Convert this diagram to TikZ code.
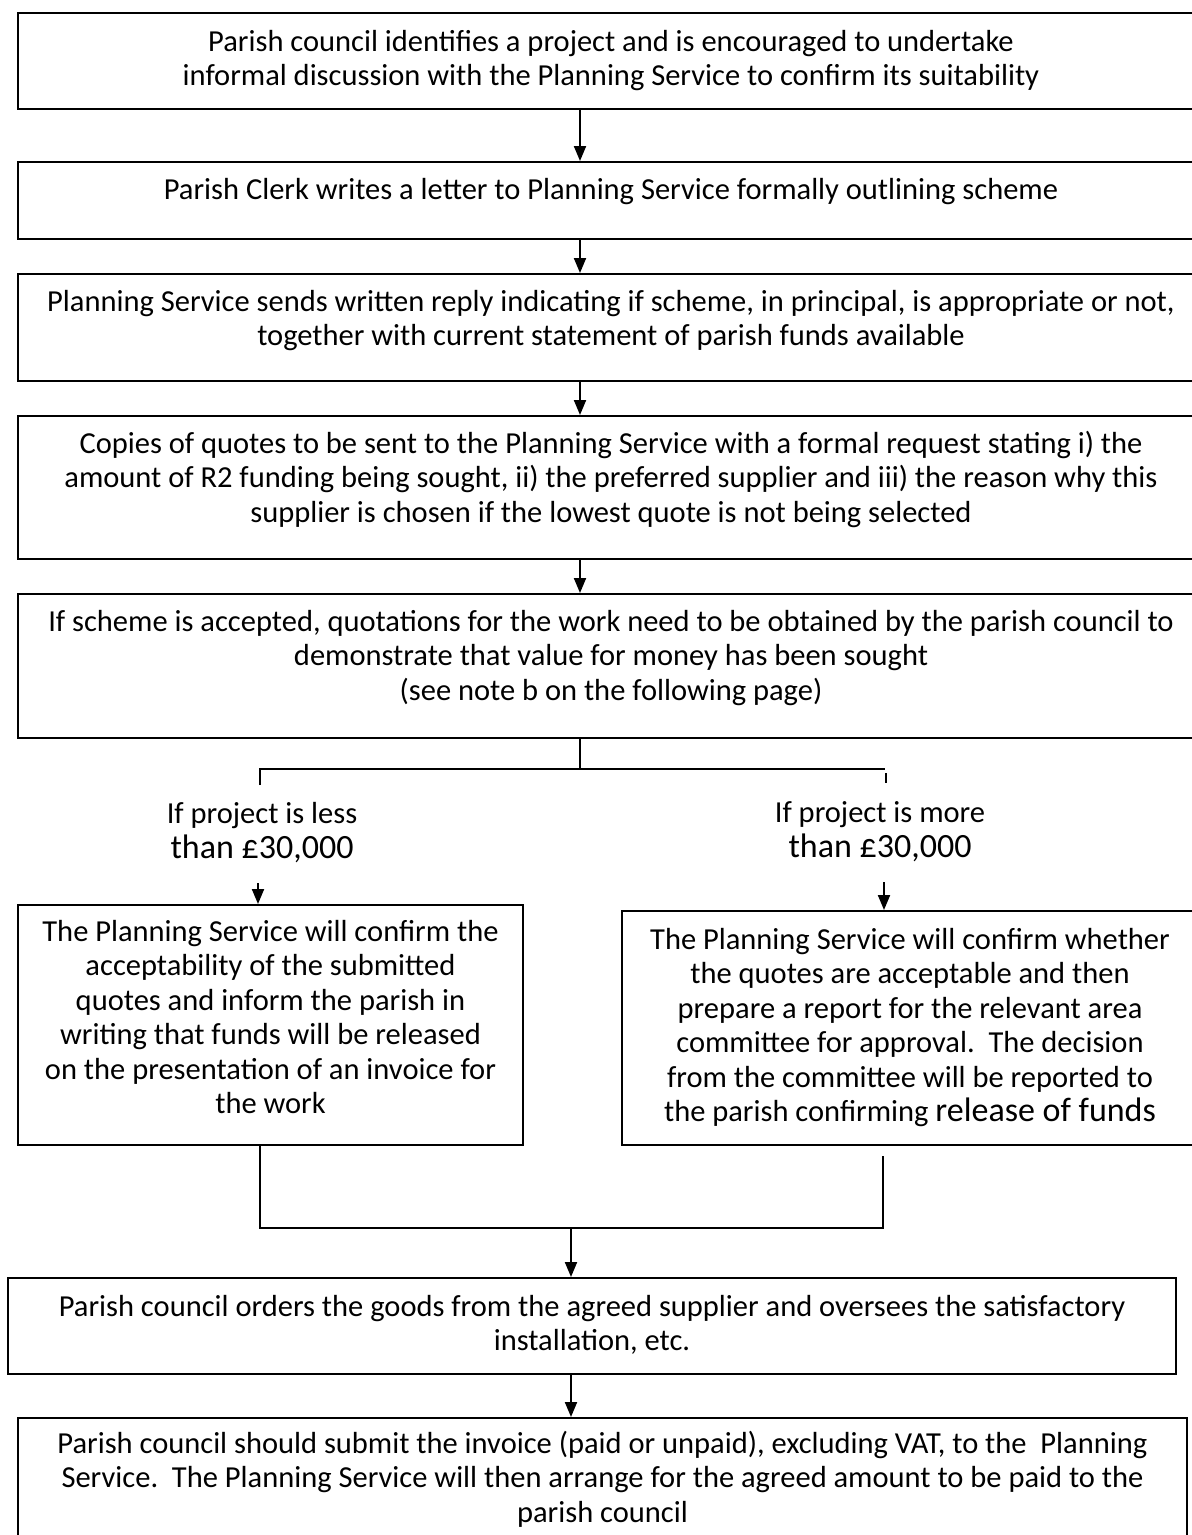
\documentclass[tikz,border=0pt]{standalone}
\usepackage{fontspec}
\setmainfont{Carlito}
\usetikzlibrary{arrows.meta}

\begin{document}
\begin{tikzpicture}[x=1pt, y=-1pt, >={Triangle[length=15pt, width=12pt]},
    stepbox/.style={draw, line width=2pt, anchor=north, align=center, inner xsep=4pt, inner ysep=0pt, font=\fontsize{30.5}{34.5}\selectfont},
    widebox/.style={stepbox, minimum width=1186pt},
    cond/.style={anchor=base, align=center, inner sep=0pt, font=\fontsize{30.5}{35}\selectfont},
    link/.style={line width=2pt}]
    \def\sx{580}
    \useasboundingbox (0,0) rectangle (1192,1535);
    \clip (0,0) rectangle (1192,1535);
    % Main steps
    \node[widebox, text height=72.5pt, text depth=23.5pt] (identify) at (611,12) {Parish council identifies a project and is encouraged to undertake\\informal discussion with the Planning Service to confirm its suitability};
    \node[widebox, text height=37pt, text depth=40pt] (letter) at (611,161) {Parish Clerk writes a letter to Planning Service formally outlining scheme};
    \node[widebox, text height=71.5pt, text depth=35.5pt] (reply) at (611,273) {Planning Service sends written reply indicating if scheme, in principal, is appropriate or not,\\together with current statement of parish funds available};
    \node[widebox, text height=106pt, text depth=37pt] (quotes) at (611,415) {Copies of quotes to be sent to the Planning Service with a formal request stating i) the\\amount of R2 funding being sought, ii) the preferred supplier and iii) the reason why this\\supplier is chosen if the lowest quote is not being selected};
    \node[widebox, text height=106pt, text depth=38pt] (accepted) at (611,593) {If scheme is accepted, quotations for the work need to be obtained by the parish council to\\demonstrate that value for money has been sought\\(see note b on the following page)};
    % Arrows down the spine
    \coordinate (spine) at (\sx,0);
    \draw[link,->] (identify.south -| spine) -- (letter.north -| spine);
    \draw[link,->] (letter.south -| spine) -- (reply.north -| spine);
    \draw[link,->] (reply.south -| spine) -- (quotes.north -| spine);
    \draw[link,->] (quotes.south -| spine) -- (accepted.north -| spine);
    % Branch
    \coordinate (fork) at (\sx,769);
    \coordinate (lessTop) at (260,769);
    \coordinate (lessStub) at (260,785);
    \coordinate (moreTop) at (885,769);
    \coordinate (tickA) at (886,773);
    \coordinate (tickB) at (886,783);
    \draw[link] (accepted.south -| spine) -- (fork);
    \draw[link] (lessStub) -- (lessTop) -- (moreTop);
    \draw[link] (tickA) -- (tickB);
    % Conditions
    \node[cond] (lessLbl) at (262,858) {If project is less\\{\fontsize{34}{35}\selectfont than £30,000}};
    \node[cond] (moreLbl) at (880,857) {If project is more\\{\fontsize{34}{35}\selectfont than £30,000}};
    \coordinate (lessIn) at (258,883);
    \coordinate (moreIn) at (884,882);
    \node[stepbox, minimum width=505pt, text height=208.5pt, text depth=31.5pt] (lessBox) at (270.5,904) {The Planning Service will confirm the\\acceptability of the submitted\\quotes and inform the parish in\\writing that funds will be released\\on the presentation of an invoice for\\the work};
    \node[stepbox, minimum width=576pt, text height=210.5pt, text depth=23.5pt] (moreBox) at (910,910) {The Planning Service will confirm whether\\the quotes are acceptable and then\\prepare a report for the relevant area\\committee for approval.\ \ The decision\\from the committee will be reported to\\the parish confirming {\fontsize{34}{34}\selectfont release of funds}};
    \draw[link,->] (lessIn) -- (lessBox.north -| lessIn);
    \draw[link,->] (moreIn) -- (moreBox.north -| moreIn);
    % Merge
    \coordinate (lessLow) at (260,1228);
    \coordinate (moreLow) at (883,1228);
    \coordinate (moreOut) at (883,1156);
    \coordinate (join) at (571,1228);
    \draw[link] (lessBox.south -| lessLow) -- (lessLow) -- (moreLow) -- (moreOut);
    % Final steps
    \node[stepbox, minimum width=1168pt, text height=72.5pt, text depth=23.5pt] (order) at (592,1277) {Parish council orders the goods from the agreed supplier and oversees the satisfactory\\installation, etc.};
    \node[stepbox, minimum width=1169pt, text height=104pt, text depth=24pt] (invoice) at (602.5,1417) {Parish council should submit the invoice (paid or unpaid), excluding VAT, to the\ \ Planning\\Service.\ \ The Planning Service will then arrange for the agreed amount to be paid to the\\parish council};
    \draw[link,->] (join) -- (order.north -| join);
    \draw[link,->] (order.south -| join) -- (invoice.north -| join);
\end{tikzpicture}
\end{document}
